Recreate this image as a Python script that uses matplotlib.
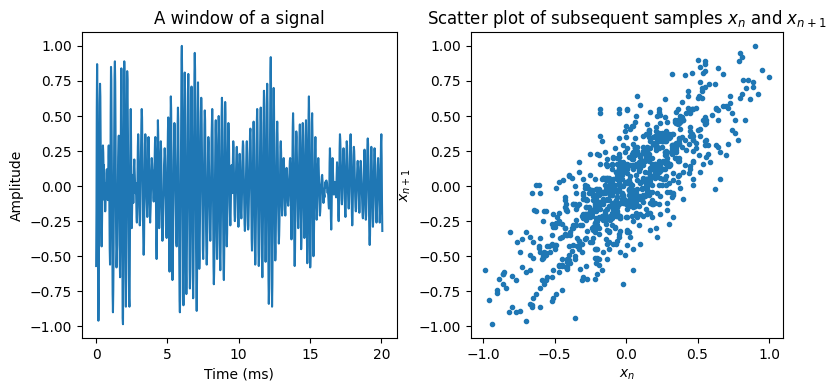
import numpy as np
import matplotlib
matplotlib.use("Agg")
import matplotlib.pyplot as plt

fs = 44100  # sampling rate (Hz)

# samples of the signal window
signal = [
    -0.57, -0.18, 0.55, 0.87, 0.62, -0.02, -0.70, -0.96, -0.81, -0.33,
    0.10, 0.58, 0.73, 0.64, 0.28, 0.01, -0.33, -0.43, -0.30, -0.09,
    0.20, 0.29, 0.24, 0.12, 0.15, -0.02, -0.10, -0.06, -0.18, -0.11,
    0.02, -0.03, 0.09, 0.12, 0.04, -0.07, -0.10, 0.02, 0.21, 0.29,
    0.17, -0.12, -0.45, -0.56, -0.18, 0.52, 0.85, 0.76, 0.38, -0.01,
    -0.49, -0.77, -0.90, -0.74, -0.47, 0.03, 0.41, 0.79, 0.89, 0.74,
    0.40, -0.09, -0.41, -0.58, -0.50, -0.42, -0.16, -0.05, 0.21, 0.28,
    0.36, 0.19, -0.13, -0.52, -0.65, -0.40, 0.08, 0.64, 0.84, 0.70,
    0.22, -0.36, -0.94, -0.985, -0.60, -0.05, 0.55, 0.89, 0.71, 0.30,
    -0.27, -0.66, -0.86, -0.63, 0.01, 0.55, 0.82, 0.76, 0.47, 0.18,
    -0.22, -0.51, -0.80, -0.86, -0.63, -0.18, 0.36, 0.55, 0.32, -0.08,
    -0.30, -0.20, -0.03, 0.08, -0.02, -0.12, -0.01, 0.14, 0.19, 0.12,
    0.06, -0.03, -0.05, 0.02, -0.11, -0.22, -0.26, -0.15, 0.06, 0.28,
    0.37, 0.31, 0.16, -0.06, -0.20, -0.28, -0.24, -0.05, 0.12, 0.36,
    0.47, 0.55, 0.49, 0.27, 0.05, -0.25, -0.40, -0.49, -0.42, -0.17,
    0.05, 0.30, 0.37, 0.34, 0.20, 0.10, -0.09, -0.16, -0.22, -0.13,
    0.06, 0.27, 0.35, 0.28, 0.16, -0.04, -0.21, -0.26, -0.20, -0.12,
    0.06, 0.14, 0.20, 0.16, 0.09, 0.11, -0.02, -0.08, -0.11, -0.06,
    0.05, 0.19, 0.31, 0.35, 0.24, -0.07, -0.41, -0.52, -0.35, -0.05,
    0.34, 0.47, 0.36, 0.07, -0.19, -0.30, -0.23, -0.10, 0.12, 0.25,
    0.32, 0.26, 0.05, -0.12, -0.33, -0.39, -0.35, -0.28, -0.10, -0.04,
    0.15, 0.22, 0.27, 0.22, 0.13, -0.07, -0.19, -0.34, -0.37, -0.28,
    -0.09, 0.21, 0.39, 0.49, 0.31, -0.04, -0.47, -0.61, -0.44, 0.04,
    0.43, 0.64, 0.54, 0.16, -0.19, -0.56, -0.67, -0.60, -0.37, -0.13,
    0.19, 0.35, 0.45, 0.42, 0.26, 0.12, -0.11, -0.24, -0.40, -0.43,
    -0.30, 0.05, 0.43, 0.56, 0.47, 0.17, -0.19, -0.52, -0.82, -0.90,
    -0.76, -0.40, 0.07, 0.50, 0.90, 1.00, 0.78, 0.33, -0.22, -0.66,
    -0.85, -0.61, 0.01, 0.54, 0.81, 0.66, 0.24, -0.20, -0.63, -0.77,
    -0.67, -0.36, 0.00, 0.43, 0.68, 0.80, 0.63, 0.29, -0.17, -0.60,
    -0.73, -0.58, -0.25, 0.23, 0.55, 0.71, 0.56, 0.21, -0.30, -0.65,
    -0.80, -0.64, -0.17, 0.32, 0.80, 0.95, 0.83, 0.47, 0.05, -0.45,
    -0.74, -0.89, -0.66, -0.05, 0.52, 0.74, 0.52, 0.10, -0.41, -0.59,
    -0.52, -0.27, 0.00, 0.35, 0.53, 0.63, 0.56, 0.33, 0.04, -0.21,
    -0.45, -0.52, -0.42, -0.13, 0.15, 0.44, 0.54, 0.47, 0.25, 0.01,
    -0.31, -0.47, -0.56, -0.48, -0.22, 0.05, 0.24, 0.35, 0.31, 0.15,
    0.00, -0.22, -0.33, -0.39, -0.33, -0.13, 0.06, 0.34, 0.46, 0.55,
    0.44, 0.09, -0.28, -0.57, -0.70, -0.61, -0.43, -0.10, 0.16, 0.40,
    0.47, 0.33, -0.05, -0.36, -0.52, -0.41, -0.18, 0.16, 0.38, 0.50,
    0.40, 0.10, -0.20, -0.51, -0.60, -0.47, -0.19, 0.22, 0.50, 0.63,
    0.55, 0.29, -0.04, -0.32, -0.59, -0.67, -0.49, -0.01, 0.39, 0.60,
    0.51, 0.22, -0.05, -0.34, -0.43, -0.34, -0.14, 0.16, 0.35, 0.45,
    0.39, 0.28, 0.07, -0.12, -0.22, -0.28, -0.20, -0.06, 0.10, 0.15,
    0.04, -0.05, 0.08, 0.25, 0.32, 0.27, 0.12, -0.06, -0.20, -0.25,
    -0.22, -0.11, 0.03, 0.15, 0.25, 0.28, 0.23, 0.10, -0.07, -0.21,
    -0.29, -0.20, -0.02, 0.16, 0.23, 0.18, 0.07, -0.06, -0.19, -0.23,
    -0.17, -0.05, 0.13, 0.26, 0.32, 0.29, 0.17, 0.02, -0.14, -0.27,
    -0.32, -0.28, -0.15, 0.01, 0.16, 0.27, 0.32, 0.23, 0.01, -0.22,
    -0.31, -0.28, -0.15, -0.05, 0.14, 0.25, 0.38, 0.41, 0.33, 0.09,
    -0.14, -0.38, -0.46, -0.37, -0.13, 0.15, 0.37, 0.46, 0.37, 0.08,
    -0.22, -0.45, -0.56, -0.49, -0.26, -0.02, 0.29, 0.46, 0.55, 0.45,
    0.14, -0.16, -0.47, -0.57, -0.50, -0.29, 0.01, 0.27, 0.49, 0.56,
    0.45, 0.12, -0.21, -0.55, -0.65, -0.51, -0.20, 0.23, 0.53, 0.68,
    0.57, 0.23, -0.13, -0.41, -0.54, -0.43, -0.08, 0.27, 0.62, 0.73,
    0.59, 0.17, -0.31, -0.67, -0.84, -0.73, -0.38, 0.06, 0.46, 0.81,
    0.92, 0.66, 0.05, -0.60, -0.86, -0.70, -0.33, 0.17, 0.53, 0.70,
    0.57, 0.29, -0.12, -0.40, -0.53, -0.47, -0.26, -0.05, 0.23, 0.38,
    0.46, 0.37, 0.18, -0.13, -0.31, -0.41, -0.35, -0.24, -0.03, 0.12,
    0.28, 0.32, 0.24, 0.06, -0.14, -0.21, -0.17, -0.04, 0.09, 0.17,
    0.20, 0.15, 0.05, -0.08, -0.17, -0.21, -0.14, -0.02, 0.10, 0.13,
    0.10, 0.03, -0.05, -0.12, -0.14, -0.10, -0.03, 0.05, 0.12, 0.18,
    0.20, 0.12, -0.08, -0.29, -0.38, -0.30, -0.05, 0.21, 0.42, 0.52,
    0.41, 0.15, -0.20, -0.45, -0.57, -0.47, -0.25, 0.08, 0.28, 0.39,
    0.35, 0.20, 0.06, -0.14, -0.24, -0.30, -0.22, -0.06, 0.20, 0.36,
    0.44, 0.30, 0.02, -0.33, -0.45, -0.36, -0.13, 0.14, 0.37, 0.45,
    0.36, 0.18, -0.10, -0.28, -0.37, -0.30, -0.06, 0.16, 0.40, 0.47,
    0.33, -0.06, -0.39, -0.55, -0.43, -0.15, 0.24, 0.51, 0.64, 0.47,
    0.01, -0.42, -0.58, -0.51, -0.29, -0.01, 0.24, 0.45, 0.52, 0.36,
    0.03, -0.36, -0.50, -0.45, -0.27, -0.10, 0.15, 0.28, 0.35, 0.26,
    0.05, -0.15, -0.24, -0.19, -0.06, 0.07, 0.16, 0.20, 0.16, 0.06,
    -0.07, -0.16, -0.21, -0.18, -0.13, -0.04, 0.01, 0.03, 0.07, 0.08,
    0.04, -0.03, -0.09, -0.12, -0.10, -0.06, -0.08, -0.02, 0.00, 0.03,
    -0.01, 0.02, 0.04, 0.01, 0.02, -0.03, -0.05, -0.02, -0.08, -0.13,
    -0.16, -0.04, 0.17, 0.27, 0.18, -0.04, -0.23, -0.31, -0.21, -0.02,
    0.14, 0.20, 0.14, 0.05, -0.03, -0.06, -0.04, 0.00, 0.03, 0.02,
    -0.02, -0.06, -0.08, 0.01, 0.12, 0.17, 0.13, 0.03, -0.11, -0.21,
    -0.25, -0.16, 0.06, 0.27, 0.37, 0.33, 0.24, 0.11, -0.01, -0.10,
    -0.13, -0.09, 0.01, 0.13, 0.23, 0.27, 0.24, 0.15, 0.02, -0.10,
    -0.19, -0.22, -0.14, 0.04, 0.23, 0.32, 0.29, 0.20, 0.07, -0.05,
    -0.13, -0.16, -0.13, -0.04, 0.10, 0.22, 0.33, 0.37, 0.30, 0.14,
    -0.06, -0.21, -0.28, -0.22, -0.07, 0.10, 0.22, 0.28, 0.25, 0.17,
    0.04, -0.07, -0.15, -0.18, -0.16, -0.09, 0.01, 0.09, 0.16, 0.18,
    0.14, 0.05, -0.06, -0.15, -0.19, -0.12, 0.01, 0.13, 0.18, 0.16,
    0.10, 0.02, -0.06, -0.15, -0.21, -0.23, -0.18, -0.05, 0.10, 0.21,
    0.26, 0.18, 0.01, -0.16, -0.24, -0.21, -0.10, 0.04, 0.19, 0.30,
    0.34, 0.30, 0.15, -0.04, -0.23, -0.37, -0.42, -0.35, -0.16, 0.06,
    0.22, 0.28, 0.22, 0.07, -0.10, -0.23, -0.29, -0.23, -0.07, 0.10,
    0.22, 0.27, 0.24, 0.14, 0.00, -0.13, -0.22, -0.26, -0.21, -0.09,
    0.05, 0.15, 0.20, 0.15, 0.04, -0.10, -0.21, -0.26, -0.19, -0.02,
    0.17, 0.32, 0.37, 0.20, -0.12, -0.32,
]

x = np.array(signal)
t = np.arange(len(x)) / fs * 1000  # time in ms

fig = plt.figure(figsize=(8.35, 3.9), dpi=100)

ax1 = fig.add_axes([0.098, 0.133, 0.377, 0.785])
ax1.plot(t, x)
ax1.set_xlabel("Time (ms)")
ax1.set_ylabel("Amplitude")
ax1.set_title("A window of a signal")

ax2 = fig.add_axes([0.564, 0.133, 0.374, 0.785])
ax2.plot(x[:-1], x[1:], '.')
ax2.set_xlabel("$x_n$")
ax2.set_ylabel("$x_{n+1}$")
ax2.set_title("Scatter plot of subsequent samples $x_n$ and $x_{n+1}$")

fig.savefig("out.png")
